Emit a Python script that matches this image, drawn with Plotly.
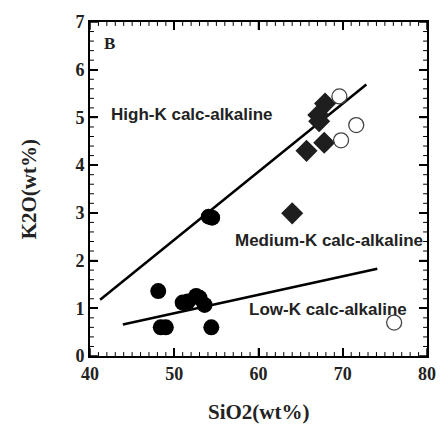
import plotly.graph_objects as go

# Data
filled_circle_sio2 = [48.1, 48.4, 49.0, 54.1, 54.5, 51.0, 51.6, 52.6, 53.0, 53.6, 54.4]
filled_circle_k2o = [1.36, 0.60, 0.60, 2.92, 2.90, 1.12, 1.14, 1.26, 1.22, 1.07, 0.60]

diamond_sio2 = [67.9, 67.1, 67.2, 65.7, 67.8, 64.0]
diamond_k2o = [5.29, 5.05, 4.92, 4.30, 4.47, 2.99]

open_circle_sio2 = [69.6, 71.6, 69.8, 76.1]
open_circle_k2o = [5.44, 4.84, 4.52, 0.70]

highk_line_sio2 = [41.2, 72.8]
highk_line_k2o = [1.18, 5.69]
lowk_line_sio2 = [43.9, 74.1]
lowk_line_k2o = [0.66, 1.83]

labels = ["High-K calc-alkaline", "Medium-K calc-alkaline", "Low-K calc-alkaline"]
label_sio2 = [42.3, 68.4, 68.2]
label_k2o = [5.07, 2.43, 0.98]

x_ticks = [40, 50, 60, 70, 80]
y_ticks = [0, 1, 2, 3, 4, 5, 6, 7]
x_minor_ticks = [v for v in range(41, 80) if v % 10]
y_minor_ticks = [round(i * 0.2, 1) for i in range(1, 35) if i % 5]
x_range = [40, 80]
y_range = [0, 7]

fig = go.Figure()

fig.add_trace(go.Scatter(x=highk_line_sio2, y=highk_line_k2o, mode="lines",
                         line=dict(color="black", width=2.5), showlegend=False))
fig.add_trace(go.Scatter(x=lowk_line_sio2, y=lowk_line_k2o, mode="lines",
                         line=dict(color="black", width=2.5), showlegend=False))

fig.add_trace(go.Scatter(x=filled_circle_sio2, y=filled_circle_k2o, mode="markers",
                         marker=dict(symbol="circle", size=16, color="black"),
                         showlegend=False))
fig.add_trace(go.Scatter(x=diamond_sio2, y=diamond_k2o, mode="markers",
                         marker=dict(symbol="diamond", size=17, color="#1e1e1e"),
                         showlegend=False))
fig.add_trace(go.Scatter(x=open_circle_sio2, y=open_circle_k2o, mode="markers",
                         marker=dict(symbol="circle-open", size=15, color="#444",
                                     line=dict(width=1.3)),
                         showlegend=False))

label_font = dict(family="Liberation Sans", size=17, color="#222", weight="bold")
fig.add_annotation(x=label_sio2[0], y=label_k2o[0], text=labels[0], showarrow=False,
                   xanchor="left", yanchor="middle", font=label_font)
fig.add_annotation(x=label_sio2[1], y=label_k2o[1], text=labels[1], showarrow=False,
                   xanchor="center", yanchor="middle", font=label_font)
fig.add_annotation(x=label_sio2[2], y=label_k2o[2], text=labels[2], showarrow=False,
                   xanchor="center", yanchor="middle", font=label_font)
fig.add_annotation(x=42.3, y=6.55, text="B", showarrow=False,
                   xanchor="center", yanchor="middle",
                   font=dict(family="Liberation Serif", size=17, color="#222", weight="bold"))

title_font = dict(family="Liberation Serif", size=21, color="#222", weight="bold")
fig.add_annotation(xref="paper", yref="paper", x=0.5, y=-0.168, text="SiO2(wt%)",
                   showarrow=False, xanchor="center", yanchor="middle", font=title_font)
fig.add_annotation(xref="paper", yref="paper", x=-0.18, y=0.5, text="K2O(wt%)",
                   showarrow=False, xanchor="center", yanchor="middle", textangle=-90,
                   font=title_font)

# Inward tick marks on all four sides, placed on the axes' own scales
plot_w, plot_h = 345.0, 340.0
tick_shapes = []
for vals, length, width in [(x_ticks, 8, 1.5), (x_minor_ticks, 4, 1)]:
    for v in vals:
        for base, sign in [(0, 1), (1, -1)]:
            tick_shapes.append(dict(type="line", xref="x", yref="paper", x0=v, x1=v,
                                    y0=base, y1=base + sign * length / plot_h,
                                    line=dict(color="black", width=width)))
for vals, length, width in [(y_ticks, 8, 1.5), (y_minor_ticks, 4, 1)]:
    for v in vals:
        for base, sign in [(0, 1), (1, -1)]:
            tick_shapes.append(dict(type="line", xref="paper", yref="y", y0=v, y1=v,
                                    x0=base, x1=base + sign * length / plot_w,
                                    line=dict(color="black", width=width)))

axis_font = dict(family="Liberation Serif", size=18, color="#222", weight="bold")

common = dict(ticks="inside", ticklen=8, tickwidth=1.5, tickcolor="black",
              showline=True, linecolor="black", linewidth=2, showgrid=False,
              zeroline=False, mirror="allticks")

fig.update_layout(
    xaxis=dict(range=x_range, tickvals=x_ticks, tickfont=axis_font, **common),
    yaxis=dict(range=y_range, tickvals=y_ticks, tickfont=axis_font, **common),
    shapes=tick_shapes,
    width=448, height=428, margin=dict(l=90, r=13, t=16, b=72),
    plot_bgcolor="white", paper_bgcolor="white",
)

fig.write_html("out.html", config={"displayModeBar": False},
               post_script="document.body.style.margin='0';")
